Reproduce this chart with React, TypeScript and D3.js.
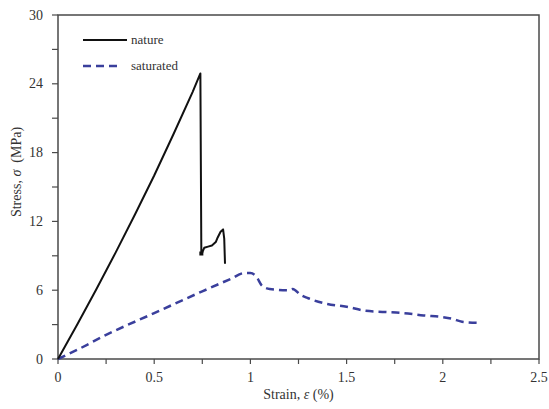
import * as d3 from "d3";
import React from "react";

// values
const natureStrain = [0, 0.05, 0.1, 0.2, 0.3, 0.4, 0.5, 0.6, 0.7, 0.74, 0.745, 0.75, 0.76, 0.78, 0.8, 0.82, 0.83, 0.845, 0.858, 0.864, 0.868];
const natureStress = [0, 1.5, 3.0, 6.1, 9.3, 12.6, 16.0, 19.6, 23.3, 24.9, 9.2, 9.3, 9.7, 9.8, 9.9, 10.2, 10.6, 11.1, 11.3, 10.5, 8.3];

const satStrain = [0, 0.1, 0.25, 0.5, 0.75, 0.9, 0.97, 1.0, 1.03, 1.06, 1.1, 1.2, 1.22, 1.26, 1.3, 1.4, 1.5, 1.6, 1.7, 1.8, 1.9, 2.0, 2.05, 2.1, 2.2];
const satStress = [0, 0.8, 2.1, 4.0, 5.9, 7.0, 7.5, 7.5, 7.2, 6.4, 6.1, 6.0, 6.1, 5.6, 5.3, 4.8, 4.56, 4.2, 4.1, 4.0, 3.8, 3.65, 3.5, 3.25, 3.14];

const xTicks = [0, 0.5, 1, 1.5, 2, 2.5];
const xMinor = [0.25, 0.75, 1.25, 1.75, 2.25];
const yTicks = [0, 6, 12, 18, 24, 30];
const yMinor = [3, 9, 15, 21, 27];

const W = 549;
const H = 409;
const m = { left: 58, right: 10, top: 15, bottom: 50 };
const font = "Liberation Serif, Times New Roman, DejaVu Serif, serif";

export default function App() {
  const x = d3.scaleLinear().domain([0, 2.5]).range([m.left, W - m.right]);
  const y = d3.scaleLinear().domain([0, 30]).range([H - m.bottom, m.top]);

  const straight = d3
    .line<[number, number]>()
    .x((d) => x(d[0]))
    .y((d) => y(d[1]));
  const smooth = d3
    .line<[number, number]>()
    .x((d) => x(d[0]))
    .y((d) => y(d[1]))
    .curve(d3.curveMonotoneX);

  const nature = natureStrain.map((s, i) => [s, natureStress[i]] as [number, number]);
  const sat = satStrain.map((s, i) => [s, satStress[i]] as [number, number]);
  const frame = "#4a4a4a";
  const blue = "#3a3f9c";

  return (
    <svg
      width={W}
      height={H}
      style={{ position: "absolute", left: 0, top: 0, background: "#fff", fontFamily: font }}
    >
      <rect x={x(0)} y={y(30)} width={x(2.5) - x(0)} height={y(0) - y(30)} fill="none" stroke={frame} strokeWidth={1.5} />
      {xTicks.concat(xMinor).map((t) => (
        <line key={"xt" + t} x1={x(t)} x2={x(t)} y1={y(0)} y2={y(0) + 5} stroke={frame} strokeWidth={1.2} />
      ))}
      {yTicks.concat(yMinor).map((t) => (
        <line key={"yt" + t} x1={x(0) - 6} x2={x(0)} y1={y(t)} y2={y(t)} stroke={frame} strokeWidth={1.2} />
      ))}
      {xTicks.map((t) => (
        <text key={"xl" + t} x={x(t)} y={y(0) + 23} textAnchor="middle" fontSize={14} fill="#333">
          {t}
        </text>
      ))}
      {yTicks.map((t) => (
        <text key={"yl" + t} x={x(0) - 15} y={y(t) + 4.5} textAnchor="end" fontSize={14} fill="#333">
          {t}
        </text>
      ))}
      <text x={(x(0) + x(2.5)) / 2} y={H - 10} textAnchor="middle" fontSize={14} fill="#333">
        Strain, <tspan fontStyle="italic">ε</tspan> (%)
      </text>
      <text transform={`translate(21,172) rotate(-90)`} textAnchor="middle" fontSize={14} fill="#333" xmlSpace="preserve">
        Stress, <tspan fontStyle="italic">σ</tspan>  (MPa)
      </text>

      <path d={smooth(sat) ?? ""} fill="none" stroke={blue} strokeWidth={2.5} strokeDasharray="8,5" />
      <path d={straight(nature) ?? ""} fill="none" stroke="#111" strokeWidth={2} strokeLinejoin="round" />
      <rect x={x(0.745) - 2} y={y(9.2) - 2} width={4} height={4} fill="#111" />

      <line x1={83} x2={127} y1={40} y2={40} stroke="#111" strokeWidth={2} />
      <text x={131} y={44} fontSize={13} fill="#333">nature</text>
      <line x1={83} x2={122} y1={66} y2={66} stroke={blue} strokeWidth={2.5} strokeDasharray="8,5" />
      <text x={131} y={70} fontSize={13} fill="#333">saturated</text>
    </svg>
  );
}
